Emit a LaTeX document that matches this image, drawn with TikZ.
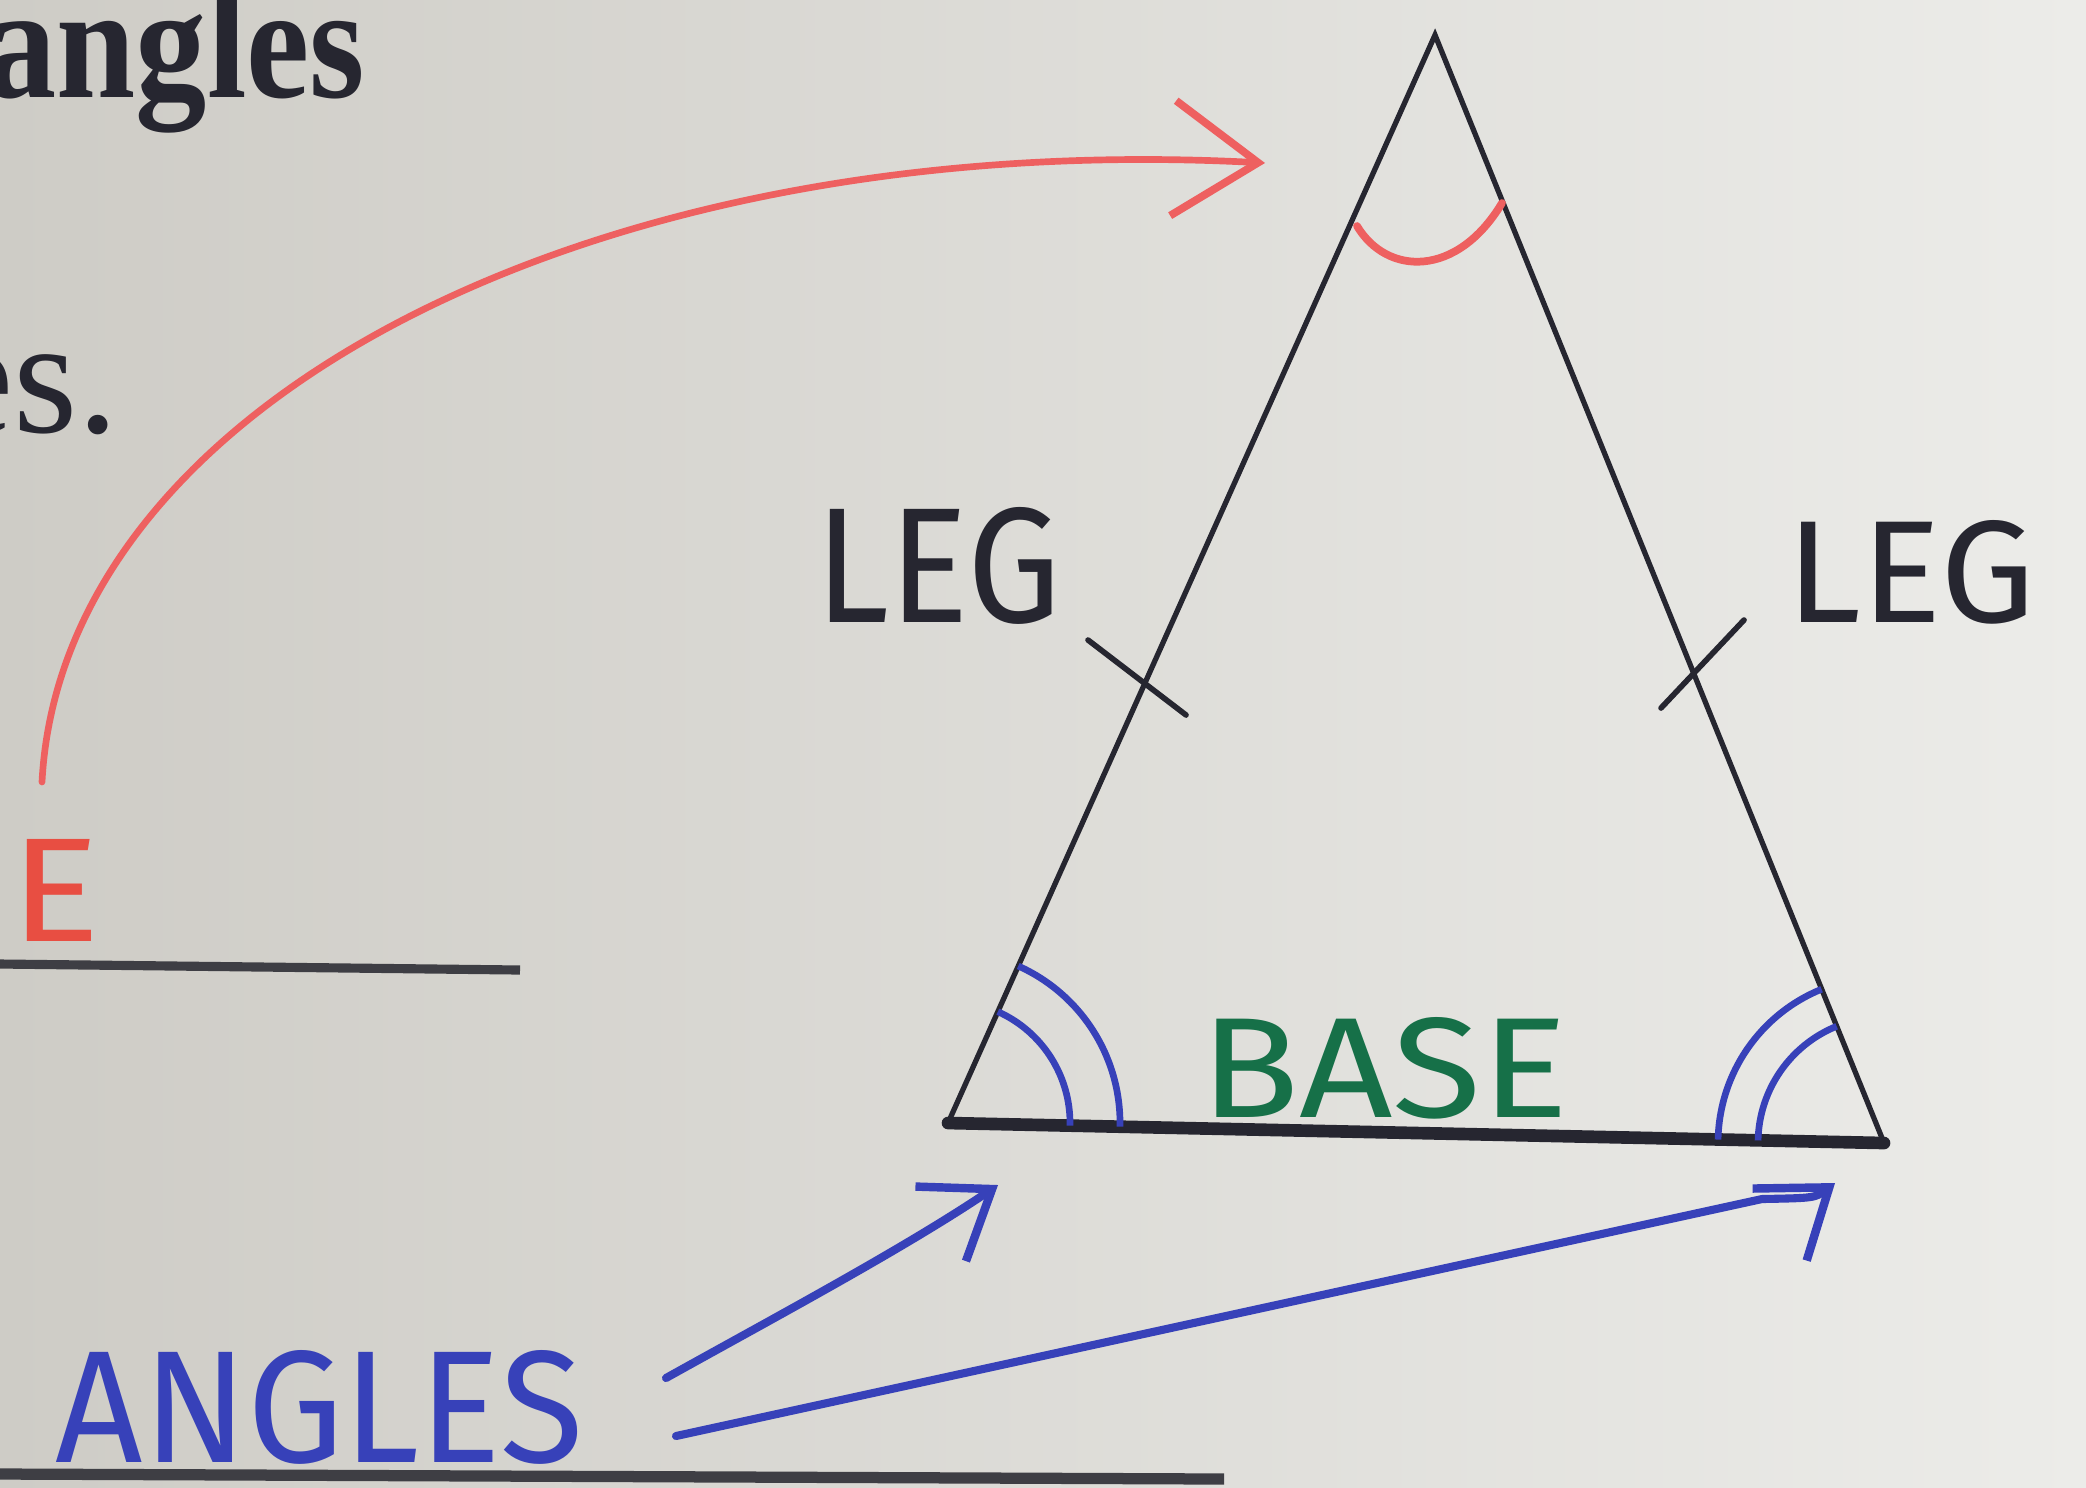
\documentclass[tikz,border=0pt]{standalone}
\usepackage{fontspec}
\setmainfont{Liberation Serif}
\newfontfamily\hand{Fira Sans}
\usetikzlibrary{arrows.meta}
\definecolor{paperL}{RGB}{206,204,198}
\definecolor{paperR}{RGB}{236,236,233}
\definecolor{ink}{RGB}{38,38,48}
\definecolor{redpen}{RGB}{238,96,96}
\definecolor{redE}{RGB}{232,78,66}
\definecolor{bluepen}{RGB}{55,65,185}
\definecolor{greenpen}{RGB}{22,112,72}
\definecolor{rulegray}{RGB}{62,62,68}
\tikzset{
  printed/.style={inner sep=0pt, text=ink},
  handlabel/.style={inner sep=0pt, anchor=south west, font=\hand},
  side/.style={ink, line width=1.5pt, line join=miter},
  basestroke/.style={ink, line width=3.6pt, line cap=round},
  tickmark/.style={ink, line width=1.6pt, line cap=round},
  redarc/.style={redpen, line width=2.2pt, line cap=round},
  bluearc/.style={bluepen, line width=1.9pt},
  redarrow/.style={redpen, line width=1.9pt, line cap=round, -{Straight Barb[length=0.85cm,width=1.15cm,line width=2.2pt]}},
  bluearrow/.style={bluepen, line width=2.3pt, line cap=round, line join=round},
  bluehead/.style={-{Straight Barb[length=0.62cm,width=0.9cm,line width=2.4pt]}},
  ruleline/.style={rulegray, line width=2.6pt}
}
\begin{document}
\begin{tikzpicture}[x=0.01cm,y=-0.01cm]
\useasboundingbox (0,0) rectangle (2086,1487);
\clip (0,0) rectangle (2086,1487);
\shade[left color=paperL,right color=paperR] (0,0) rectangle (2086,1487);

% printed text
\node[printed, anchor=base east, font=\fontsize{46}{52}\selectfont\bfseries] (title) at (366,97) {\scalebox{0.88}[1]{angles}};
\node[printed, anchor=base east, font=\fontsize{47}{52}\selectfont] (es) at (120,432) {es.};

% rules
\draw[ruleline] (0,964) -- (520,970);
\draw[ruleline, line width=3.2pt] (0,1474) -- (1224,1479);

% triangle
\coordinate (A) at (1435,35);
\coordinate (B) at (948,1123);
\coordinate (C) at (1884,1143);
\draw[side] (B) -- (A) -- (C);
\draw[basestroke] (B) -- (C);

% equal-leg ticks
\draw[tickmark] (1088,640) -- (1186,715);
\draw[tickmark] (1744,620) -- (1661,708);

% apex angle mark
\draw[redarc] (1357,226) .. controls (1387,276) and (1457,278) .. (1502,203);

% base angle marks
\draw[bluearc] (B) ++(1.2:122) arc[start angle=1.2, end angle=-65.9, radius=122];
\draw[bluearc] (B) ++(1.2:172) arc[start angle=1.2, end angle=-65.9, radius=172];
\draw[bluearc] (C) ++(181.2:126) arc[start angle=181.2, end angle=247.9, radius=126];
\draw[bluearc] (C) ++(181.2:166) arc[start angle=181.2, end angle=247.9, radius=166];

% handwritten labels
\node[handlabel, text=ink] (legL) at (815,625) {\resizebox{2.45cm}{1.15cm}{LEG}};
\node[handlabel, text=ink] (legR) at (1786,625) {\resizebox{2.48cm}{1.02cm}{LEG}};
\node[handlabel, text=greenpen] (base) at (1200,1120) {\resizebox{3.68cm}{1.0cm}{BASE}};
\node[handlabel, text=redE] (vertex) at (10,942) {\resizebox{0.9cm}{1.02cm}{E}};
\node[handlabel, text=bluepen] (angles) at (55,1465) {\resizebox{5.27cm}{1.12cm}{ANGLES}};

% arrows
\coordinate (redstart) at (42,782);
\coordinate (redtip) at (1265,163);
\draw[redarrow] (redstart) .. controls (62,400) and (600,128) .. (redtip);

\coordinate (b1start) at (666,1378);
\coordinate (b1tip) at (998,1185);
\coordinate (b2start) at (676,1436);
\coordinate (b2bend) at (1762,1199);
\coordinate (b2tip) at (1835,1183);
\draw[bluearrow, bluehead] (b1start) .. controls (770,1320) and (905,1248) .. (b1tip);
\draw[bluearrow, bluehead] (b2start) -- (b2bend) .. controls (1815,1198) .. (b2tip);
\end{tikzpicture}
\end{document}
